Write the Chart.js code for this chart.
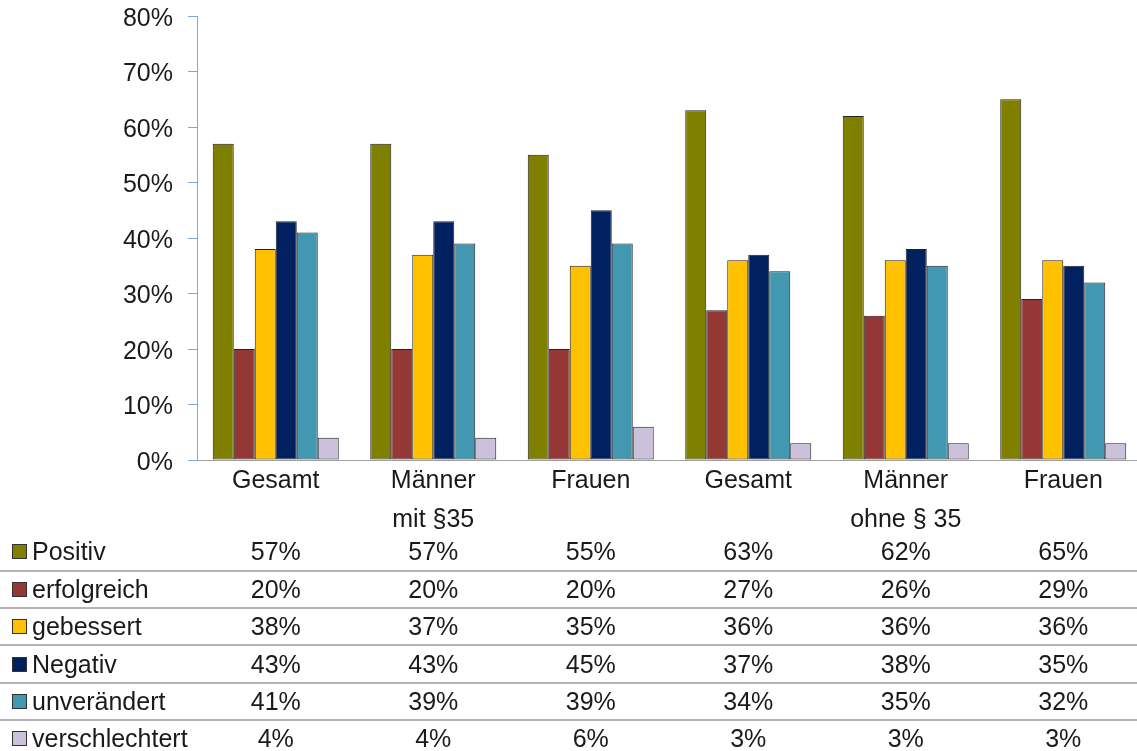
<!DOCTYPE html>
<html>
<head>
<meta charset="utf-8">
<script src="https://cdn.jsdelivr.net/npm/chart.js@4.4.1/dist/chart.umd.min.js"></script>
<style>
    body {
        margin: 0;
        width: 1137px;
        height: 751px;
        overflow: hidden;
        background: #fff;
        font-family: "Liberation Sans", Arial, sans-serif;
        color: #1a1a1a;
    }
    #chartBox {
        position: absolute;
        left: 0;
        top: 0;
        width: 1142px;
        height: 540px;
    }
    #dataTable {
        position: absolute;
        left: 0;
        top: 0;
        width: 1137px;
        height: 751px;
    }
    .table-row {
        position: absolute;
        left: 0;
        width: 1137px;
        height: 37.4px;
        font-size: 25px;
        line-height: 37.4px;
    }
    .table-row.lined {
        border-bottom: 2px solid #b4b4b4;
        box-sizing: border-box;
        height: 38.4px;
    }
    .legend-box {
        position: absolute;
        left: 12px;
        top: 11px;
        width: 13px;
        height: 13px;
        border: 1px solid #333;
    }
    .row-label {
        position: absolute;
        left: 32px;
        top: 0;
        white-space: nowrap;
    }
    .row-value {
        position: absolute;
        top: 0;
        transform: translateX(-50%);
        white-space: nowrap;
    }
</style>
</head>
<body>
<div id="chartBox"><canvas id="barChart" width="1142" height="540"></canvas></div>
<div id="dataTable"></div>
<script>
/* data */

const categories = [
    ["Gesamt"],
    ["Männer", "mit §35"],
    ["Frauen"],
    ["Gesamt"],
    ["Männer", "ohne § 35"],
    ["Frauen"]
];

const seriesNames = ["Positiv", "erfolgreich", "gebessert", "Negativ", "unverändert", "verschlechtert"];
const seriesColors = ["#808000", "#953735", "#ffc000", "#002060", "#4298b0", "#ccc1da"];

const positiv = [57, 57, 55, 63, 62, 65];
const erfolgreich = [20, 20, 20, 27, 26, 29];
const gebessert = [38, 37, 35, 36, 36, 36];
const negativ = [43, 43, 45, 37, 38, 35];
const unveraendert = [41, 39, 39, 34, 35, 32];
const verschlechtert = [4, 4, 6, 3, 3, 3];

const seriesValues = [positiv, erfolgreich, gebessert, negativ, unveraendert, verschlechtert];

const yTicks = [0, 10, 20, 30, 40, 50, 60, 70, 80];

/* chart */

const fontFamily = "'Liberation Sans', Arial, sans-serif";
const axisBlue = "#7fa6d8";

const chart = new Chart(document.querySelector("#barChart"), {
    type: "bar",
    data: {
        labels: categories,
        datasets: seriesNames.map((name, i) => ({
            label: name,
            data: seriesValues[i],
            backgroundColor: seriesColors[i],
            borderColor: "#222",
            borderWidth: 1,
            borderSkipped: false
        }))
    },
    options: {
        responsive: false,
        devicePixelRatio: 1,
        animation: false,
        layout: {
            padding: { top: 2, right: 0, bottom: 0, left: 0 }
        },
        categoryPercentage: 0.8,
        barPercentage: 1,
        plugins: {
            legend: { display: false },
            tooltip: { enabled: false }
        },
        scales: {
            x: {
                grid: { display: false },
                border: { color: "#a0a0a0", width: 1 },
                ticks: {
                    color: "#1a1a1a",
                    autoSkip: false,
                    maxRotation: 0,
                    padding: -6,
                    font: { family: fontFamily, size: 25, lineHeight: 1.55 }
                },
                afterFit: scale => { scale.height = 80; }
            },
            y: {
                min: yTicks[0],
                max: yTicks[yTicks.length - 1],
                afterBuildTicks: scale => {
                    scale.ticks = yTicks.map(v => ({ value: v }));
                },
                ticks: {
                    color: "#1a1a1a",
                    padding: 15,
                    labelOffset: 3,
                    // small line height keeps the top label from pushing the plot down
                    font: { family: fontFamily, size: 25, lineHeight: 0.08 },
                    callback: value => `${value}%`
                },
                grid: {
                    drawOnChartArea: false,
                    drawTicks: true,
                    tickLength: 9,
                    color: axisBlue
                },
                border: { color: axisBlue, width: 1 },
                afterFit: scale => { scale.width = 197; }
            }
        }
    }
});

/* data table under the chart */

const dataTableEl = document.querySelector("#dataTable");
const xScale = chart.scales.x;
const rowTop = 533.3;
const rowStep = 37.4;

seriesNames.forEach((name, i) => {
    const row = document.createElement("div");
    row.classList.add("table-row");
    if (i < seriesNames.length - 1) {
        row.classList.add("lined");
    }
    row.style.top = `${rowTop + i * rowStep}px`;

    row.innerHTML = `
        <span class="legend-box" style="background:${seriesColors[i]}"></span>
        <span class="row-label">${name}</span>
    `;

    seriesValues[i].forEach((value, j) => {
        const cell = document.createElement("span");
        cell.classList.add("row-value");
        cell.style.left = `${xScale.getPixelForValue(j)}px`;
        cell.textContent = `${value}%`;
        row.appendChild(cell);
    });

    dataTableEl.appendChild(row);
});
</script>
</body>
</html>
